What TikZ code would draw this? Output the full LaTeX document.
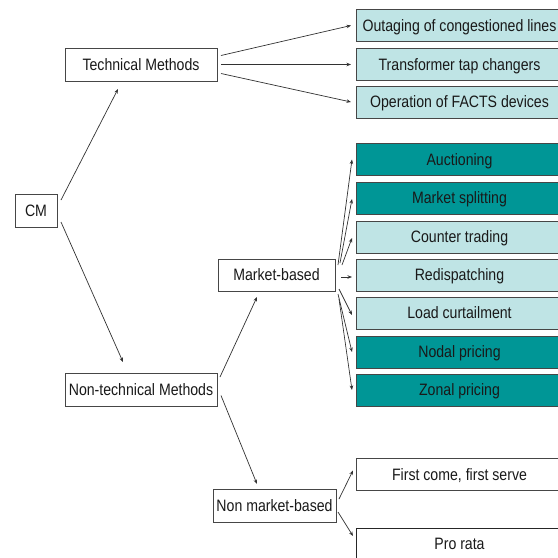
\documentclass[tikz,border=0pt]{standalone}
\usepackage{fontspec}
\setmainfont{Liberation Sans}[FakeStretch=0.855]
\usetikzlibrary{arrows.meta,calc}
\definecolor{lightbox}{RGB}{191,228,229}
\definecolor{tealbox}{RGB}{0,150,150}
\definecolor{edge}{RGB}{70,70,70}
\definecolor{linecol}{RGB}{50,50,50}
\begin{document}
\begin{tikzpicture}[x=1pt,y=-1pt,
  box/.style={draw=edge,line width=0.8pt,fill=white,inner sep=0pt,outer sep=0pt,
    text height=11.8pt,text depth=0pt,
    font=\fontsize{16.5}{17}\selectfont,text=black!90},
  rbox/.style={box,minimum width=207pt,minimum height=32pt},
  lt/.style={rbox,fill=lightbox},
  tl/.style={rbox,fill=tealbox},
  arr/.style={-{Stealth[length=4.5pt,width=3.5pt]},draw=linecol,line width=0.7pt}]
\useasboundingbox (0,0) rectangle (558,558);
\fill[white] (0,0) rectangle (558,558);
\begin{scope}
\clip (0,0) rectangle (558,558);
% left column
\node[box,minimum width=42pt,minimum height=33pt] (cm) at (36,210.5) {CM};
\node[box,minimum width=152pt,minimum height=33pt] (tm) at (141,64.5) {Technical Methods};
\node[box,minimum width=152pt,minimum height=33pt] (ntm) at (141,389.5) {Non-technical Methods};
\node[box,minimum width=117pt,minimum height=32pt] (mb) at (276.5,275) {Market-based};
\node[box,minimum width=123pt,minimum height=33pt] (nmb) at (274.5,505.5) {Non market-based};
% right column
\node[lt] (og) at (459.5,25.5) {Outaging of congestioned lines};
\node[lt] (tt) at (459.5,64.5) {Transformer tap changers};
\node[lt] (of) at (459.5,102) {Operation of FACTS devices};
\node[tl] (au) at (459.5,159.5) {Auctioning};
\node[tl] (ms) at (459.5,198) {Market splitting};
\node[lt] (ct) at (459.5,237) {Counter trading};
\node[lt] (rd) at (459.5,275) {Redispatching};
\node[lt] (lc) at (459.5,313) {Load curtailment};
\node[tl] (np) at (459.5,352) {Nodal pricing};
\node[tl] (zp) at (459.5,390) {Zonal pricing};
\node[rbox] (fc) at (459.5,474.5) {First come, first serve};
\node[rbox,draw=black!85] (pr) at (459.5,544) {Pro rata};
% connectors
\draw[arr] ($(cm.north east)+(4,6)$) -- ($(tm.south)+(-23,8)$);
\draw[arr] ($(cm.south east)+(4,-5)$) -- ($(ntm.north)+(-18,-11)$);
\draw[arr] ($(ntm.north east)+(3,4)$) -- ($(mb.south)+(-19.5,6)$);
\draw[arr] ($(ntm.east)+(4,6)$) -- ($(nmb.north)+(-17.5,-5)$);
\draw[arr] ($(tm.east)+(4,-9)$) -- ($(og.west)+(-5,0)$);
\draw[arr] ($(tm.east)+(4,0)$) -- ($(tt.west)+(-5,0)$);
\draw[arr] ($(tm.east)+(4,9)$) -- ($(of.west)+(-5,0)$);
\draw[arr] ($(mb.north east)+(3,6)$) -- ($(au.west)+(-4,0)$);
\draw[arr] ($(mb.north east)+(5,4)$) -- ($(ms.west)+(-4,1)$);
\draw[arr] ($(mb.north east)+(7,6)$) -- ($(ct.west)+(-4,1)$);
\draw[arr] ($(mb.east)+(6,2)$) -- ($(rd.west)+(-4,2)$);
\draw[arr] ($(mb.south east)+(4,-2)$) -- ($(lc.west)+(-4,2)$);
\draw[arr] ($(mb.south east)+(3,3)$) -- ($(np.west)+(-4,0)$);
\draw[arr] ($(mb.south east)+(4,8)$) -- ($(zp.west)+(-4,0)$);
\draw[arr] ($(nmb.north east)+(3,10)$) -- ($(fc.west)+(-3,-4)$);
\draw[arr] ($(nmb.south east)+(2,-10)$) -- ($(pr.west)+(-3,-8)$);
\end{scope}
\end{tikzpicture}
\end{document}
